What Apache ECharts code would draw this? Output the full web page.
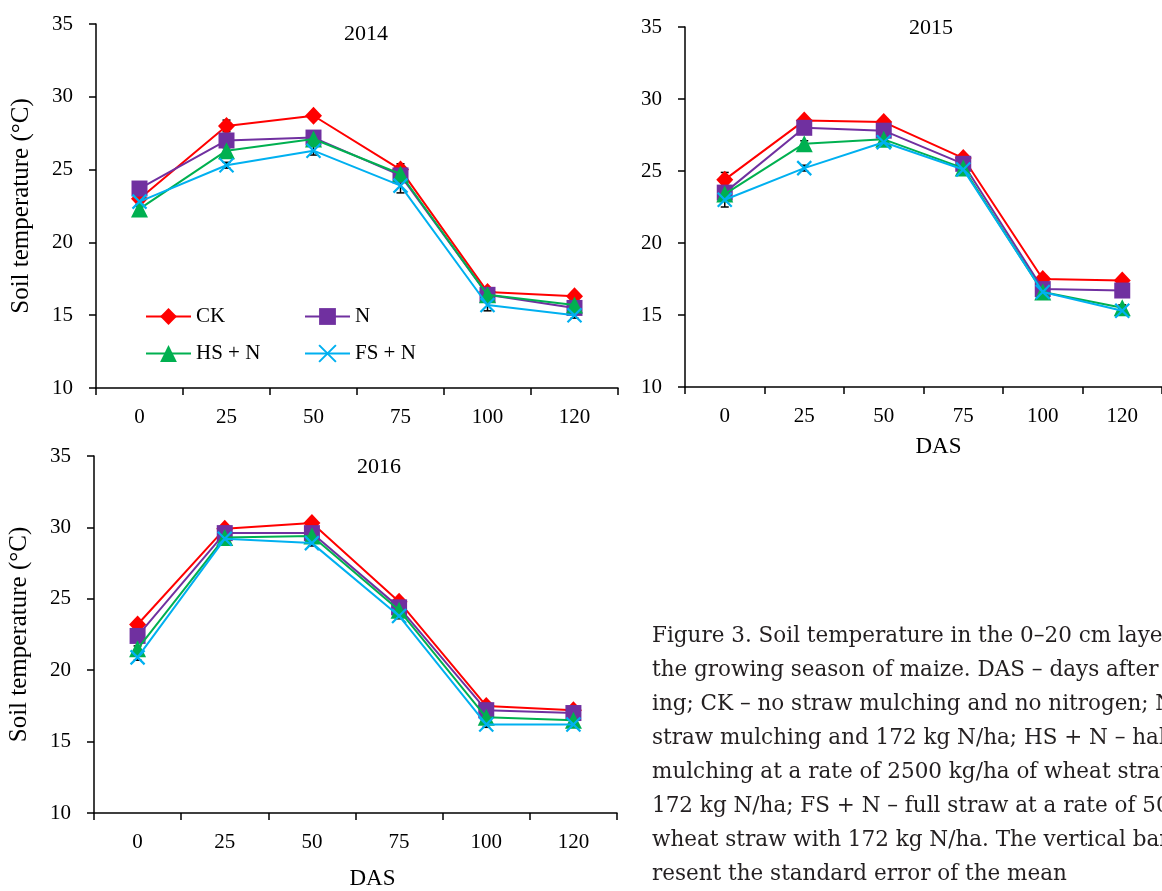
<!DOCTYPE html>
<html>
<head>
<meta charset="utf-8">
<title>Soil temperature</title>
<script src="https://cdn.jsdelivr.net/npm/echarts@6/dist/echarts.min.js"></script>
<style>
  html, body { margin: 0; padding: 0; background: #fff; }
  #chart { width: 1162px; height: 891px; }
</style>
</head>
<body>
<div id="chart"></div>
<script>
// categories (days after sowing) and treatments
var days = ['0', '25', '50', '75', '100', '120']
var treatments = ['CK', 'N', 'HS + N', 'FS + N']
var years = ['2014', '2015', '2016']

// mean soil temperature, one row per treatment (CK, N, HS + N, FS + N)
var temp2014 = [
  [23.0, 28.0, 28.7, 25.0, 16.6, 16.3],
  [23.7, 27.0, 27.2, 24.6, 16.4, 15.5],
  [22.3, 26.3, 27.1, 24.7, 16.4, 15.7],
  [22.8, 25.3, 26.3, 23.9, 15.7, 15.0]
]
var temp2015 = [
  [24.4, 28.5, 28.4, 25.9, 17.5, 17.4],
  [23.5, 28.0, 27.8, 25.5, 16.8, 16.7],
  [23.4, 26.9, 27.2, 25.2, 16.6, 15.5],
  [23.0, 25.2, 27.0, 25.1, 16.6, 15.3]
]
var temp2016 = [
  [23.2, 29.9, 30.3, 24.8, 17.5, 17.2],
  [22.4, 29.6, 29.6, 24.4, 17.2, 17.0],
  [21.5, 29.3, 29.4, 24.2, 16.7, 16.5],
  [20.9, 29.2, 28.9, 23.8, 16.2, 16.2]
]

// standard errors, same layout
var se2014 = [
  [0.2, 0.4, 0.2, 0.4, 0.2, 0.2],
  [0.2, 0.2, 0.2, 0.2, 0.2, 0.2],
  [0.2, 0.2, 0.2, 0.2, 0.2, 0.2],
  [0.2, 0.2, 0.3, 0.5, 0.4, 0.2]
]
var se2015 = [
  [0.5, 0.2, 0.2, 0.2, 0.2, 0.2],
  [0.2, 0.2, 0.2, 0.2, 0.2, 0.2],
  [0.2, 0.2, 0.2, 0.2, 0.2, 0.2],
  [0.5, 0.2, 0.2, 0.2, 0.2, 0.2]
]
var se2016 = [
  [0.2, 0.2, 0.2, 0.2, 0.2, 0.2],
  [0.2, 0.2, 0.2, 0.2, 0.2, 0.2],
  [0.2, 0.2, 0.2, 0.2, 0.2, 0.2],
  [0.2, 0.2, 0.2, 0.2, 0.2, 0.2]
]

var yMin = 10
var yMax = 35
var yStep = 5

var caption = [
  'Figure 3. Soil temperature in the 0\u201320 cm layer during',
  'the growing season of maize. DAS \u2013 days after sow-',
  'ing; CK \u2013 no straw mulching and no nitrogen; N \u2013 no',
  'straw mulching and 172 kg N/ha; HS + N \u2013 half straw',
  'mulching at a rate of 2500 kg/ha of wheat straw with',
  '172 kg N/ha; FS + N \u2013 full straw at a rate of 5000 kg/ha of',
  'wheat straw with 172 kg N/ha. The vertical bars rep-',
  'resent the standard error of the mean'
]

var serif = '"Liberation Serif", "DejaVu Serif", serif'
var colors = ['#ff0000', '#7030a0', '#00b050', '#00b0f0']
var symbols = ['diamond', 'rect', 'triangle', 'path://M0,0L10,10M10,0L0,10']
var symbolSizes = [[17, 18], 16, 17, 14]

var chart = echarts.init(document.getElementById('chart'))

function xAxisFor (i, withName, nameGap, shift) {
  return {
    type: 'category',
    gridIndex: i,
    data: days,
    boundaryGap: true,
    name: withName ? 'DAS' : '',
    nameLocation: 'middle',
    nameGap: nameGap,
    nameTextStyle: { fontFamily: serif, fontSize: 23, color: '#000', padding: [0, 0, 0, shift] },
    axisLine: { show: true, lineStyle: { color: '#000', width: 1.5 } },
    axisTick: { show: true, length: 7, lineStyle: { color: '#000', width: 1.5 } },
    axisLabel: { fontFamily: serif, fontSize: 21, color: '#000', margin: 19 },
    splitLine: { show: false }
  }
}

function yAxisFor (i, withName) {
  return {
    type: 'value',
    gridIndex: i,
    min: yMin,
    max: yMax,
    interval: yStep,
    name: withName ? 'Soil temperature (\u00b0C)' : '',
    nameLocation: 'middle',
    nameGap: 62,
    nameTextStyle: { fontFamily: serif, fontSize: 25, color: '#000' },
    axisLine: { show: true, lineStyle: { color: '#000', width: 1.5 } },
    axisTick: { show: true, length: 7, lineStyle: { color: '#000', width: 1.5 } },
    axisLabel: { fontFamily: serif, fontSize: 21, color: '#000', margin: 23 },
    splitLine: { show: false }
  }
}

function errorBars (params, api) {
  var lo = api.coord([api.value(0), api.value(1)])
  var hi = api.coord([api.value(0), api.value(2)])
  var w = 4
  var st = { stroke: '#000', lineWidth: 1.5 }
  return {
    type: 'group',
    children: [
      { type: 'line', shape: { x1: lo[0], y1: lo[1], x2: hi[0], y2: hi[1] }, style: st },
      { type: 'line', shape: { x1: lo[0] - w, y1: lo[1], x2: lo[0] + w, y2: lo[1] }, style: st },
      { type: 'line', shape: { x1: hi[0] - w, y1: hi[1], x2: hi[0] + w, y2: hi[1] }, style: st }
    ]
  }
}

function panelSeries (i, rows, errs) {
  var out = []
  var bars = []
  rows.forEach(function (vals, k) {
    vals.forEach(function (v, j) {
      bars.push([j, v - errs[k][j], v + errs[k][j]])
    })
  })
  out.push({
    type: 'custom',
    xAxisIndex: i,
    yAxisIndex: i,
    renderItem: errorBars,
    encode: { x: 0, y: [1, 2] },
    data: bars,
    z: 1,
    silent: true
  })
  rows.forEach(function (vals, k) {
    out.push({
      name: treatments[k],
      type: 'line',
      xAxisIndex: i,
      yAxisIndex: i,
      data: vals,
      symbol: symbols[k],
      symbolSize: symbolSizes[k],
      showSymbol: true,
      lineStyle: { color: colors[k], width: 2 },
      itemStyle: { color: colors[k], borderColor: colors[k], borderWidth: k === 3 ? 2.2 : 0, opacity: 1 },
      z: 2 + k
    })
  })
  return out
}

function legendAt (name, left, top) {
  return {
    data: [name],
    left: left,
    top: top,
    orient: 'horizontal',
    itemWidth: 45,
    itemHeight: 21,
    itemGap: 0,
    selectedMode: false,
    textStyle: { fontFamily: serif, fontSize: 21, color: '#000' }
  }
}

var titleStyle = { fontFamily: serif, fontSize: 22, fontWeight: 'normal', color: '#000' }

chart.setOption({
  animation: false,
  backgroundColor: '#fff',
  title: [
    { text: years[0], left: 339, top: 18, textStyle: titleStyle },
    { text: years[1], left: 904, top: 12, textStyle: titleStyle },
    { text: years[2], left: 352, top: 451, textStyle: titleStyle }
  ],
  grid: [
    { left: 96, top: 24, width: 522, height: 364 },
    { left: 685, top: 27, width: 481, height: 360 },
    { left: 94, top: 456, width: 523, height: 358 }
  ],
  legend: [
    legendAt('CK', 140, 301),
    legendAt('N', 299, 301),
    legendAt('HS + N', 140, 338),
    legendAt('FS + N', 299, 338)
  ],
  xAxis: [
    xAxisFor(0, false, 0, 0),
    xAxisFor(1, true, 48, 30),
    xAxisFor(2, true, 54, 34)
  ],
  yAxis: [
    yAxisFor(0, true),
    yAxisFor(1, false),
    yAxisFor(2, true)
  ],
  graphic: [
    {
      type: 'text',
      left: 652,
      top: 619,
      style: {
        text: caption.join('\n'),
        fontFamily: '"DejaVu Serif", serif',
        fontSize: 21.5,
        lineHeight: 34,
        fill: '#231f20'
      }
    }
  ],
  series: []
    .concat(panelSeries(0, temp2014, se2014))
    .concat(panelSeries(1, temp2015, se2015))
    .concat(panelSeries(2, temp2016, se2016))
})
</script>
</body>
</html>
